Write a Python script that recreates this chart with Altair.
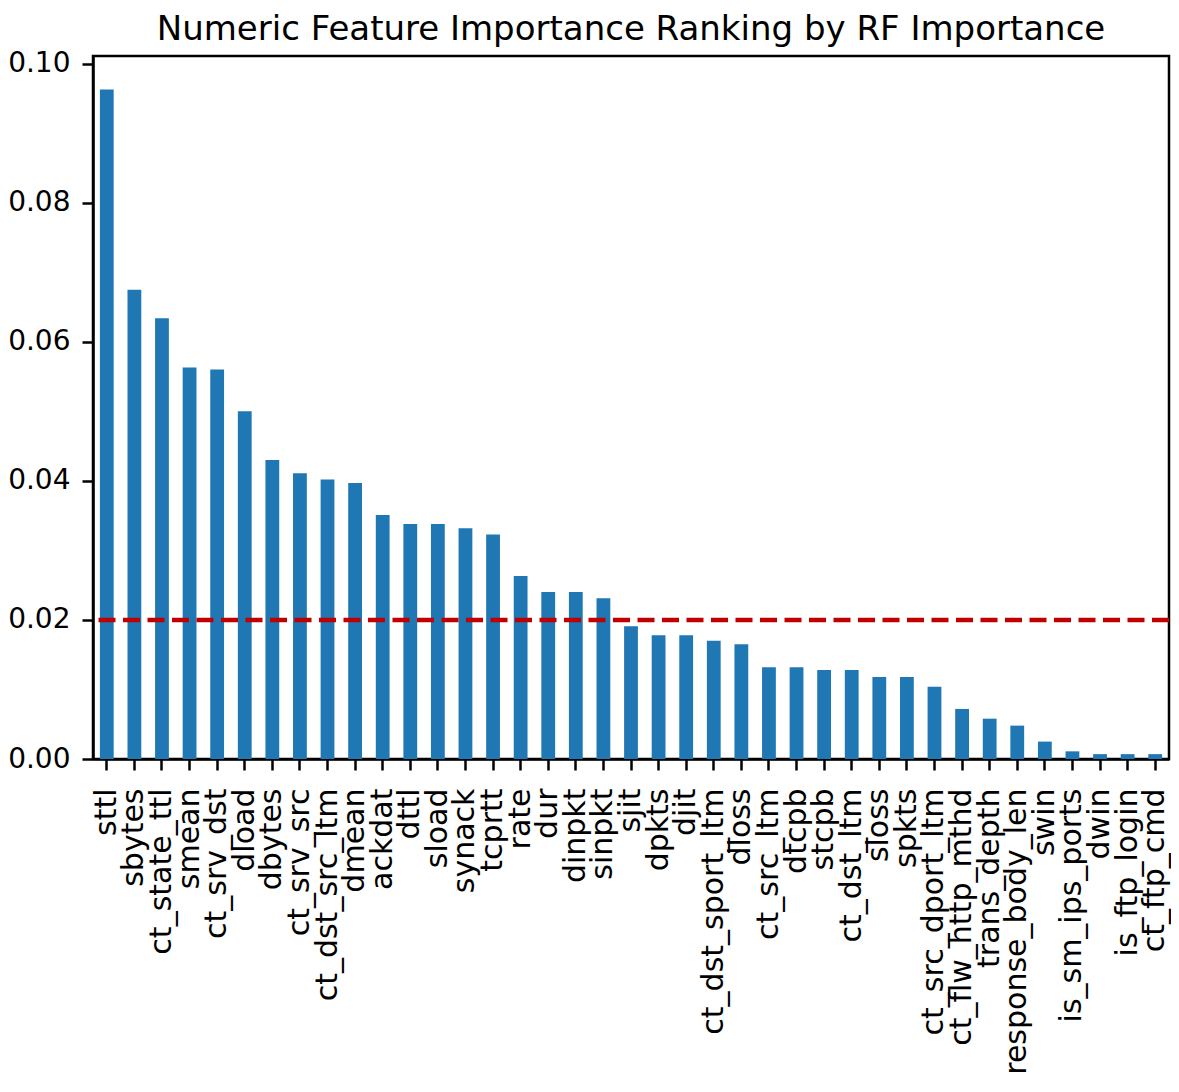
import altair as alt
import pandas as pd

features = [
    "sttl", "sbytes", "ct_state_ttl", "smean", "ct_srv_dst", "dload", "dbytes",
    "ct_srv_src", "ct_dst_src_ltm", "dmean", "ackdat", "dttl", "sload", "synack",
    "tcprtt", "rate", "dur", "dinpkt", "sinpkt", "sjit", "dpkts", "djit",
    "ct_dst_sport_ltm", "dloss", "ct_src_ltm", "dtcpb", "stcpb", "ct_dst_ltm",
    "sloss", "spkts", "ct_src_dport_ltm", "ct_flw_http_mthd", "trans_depth",
    "response_body_len", "swin", "is_sm_ips_ports", "dwin", "is_ftp_login",
    "ct_ftp_cmd",
]
importance = [
    0.0963, 0.0675, 0.0634, 0.0563, 0.0560, 0.0500, 0.0430,
    0.0411, 0.0402, 0.0397, 0.0351, 0.0338, 0.0338, 0.0332,
    0.0323, 0.0263, 0.0240, 0.0240, 0.0231, 0.0191, 0.0178, 0.0178,
    0.0170, 0.0165, 0.0132, 0.0132, 0.0128, 0.0128,
    0.0118, 0.0118, 0.0104, 0.0072, 0.0058,
    0.0048, 0.0025, 0.0011, 0.0007, 0.0007,
    0.0007,
]
threshold = [0.02]
y_ticks = [0.00, 0.02, 0.04, 0.06, 0.08, 0.10]

df = pd.DataFrame({"feature": features, "importance": importance})
df_thr = pd.DataFrame({"threshold": threshold})

FONT = "DejaVu Sans"

bars = alt.Chart(df).mark_bar(color="#1f77b4").encode(
    x=alt.X(
        "feature:N",
        sort=features,
        scale=alt.Scale(paddingInner=0.5, paddingOuter=0.25),
        axis=alt.Axis(title=None, labelAngle=-90, labelPadding=18,
                      labelLimit=0, labelFontSize=30),
    ),
    y=alt.Y(
        "importance:Q",
        scale=alt.Scale(domain=[0, 0.1011], nice=False, zero=True),
        axis=alt.Axis(title=None, values=y_ticks, format=".2f",
                      labelPadding=12, labelFontSize=28),
    ),
)

rule = alt.Chart(df_thr).mark_rule(
    color="#c00000", strokeDash=[17, 7.5], strokeWidth=4.6
).encode(y="threshold:Q")

chart = (
    alt.layer(bars, rule)
    .properties(
        width=1076,
        height=703,
        title=alt.TitleParams(
            "Numeric Feature Importance Ranking by RF Importance",
            font=FONT, fontSize=34, fontWeight="normal", color="black",
            anchor="middle", offset=3,
        ),
        autosize=alt.AutoSizeParams(type="none"),
        padding={"left": 85, "top": 48, "right": 2, "bottom": 318},
    )
    .configure_view(stroke="black", strokeWidth=2.5)
    .configure_axis(
        labelFont=FONT, labelColor="black",
        domainColor="black", domainWidth=2.5,
        tickColor="black", tickWidth=2.5, tickSize=11,
        grid=False,
    )
)

chart.save("out.html", embed_options={"renderer": "svg", "actions": False})
